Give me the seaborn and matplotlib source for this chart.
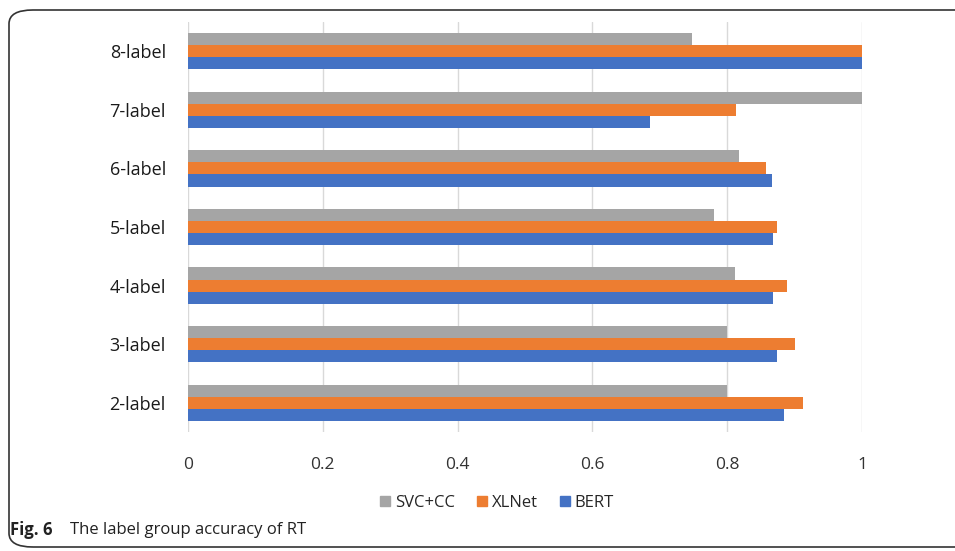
import matplotlib
matplotlib.use("Agg")
import matplotlib.pyplot as plt
from matplotlib.patches import FancyBboxPatch, Patch
import seaborn as sns
import pandas as pd

# values
labels = ['8-label', '7-label', '6-label', '5-label', '4-label', '3-label', '2-label']
svc_cc = [0.748, 1.0, 0.817, 0.781, 0.812, 0.800, 0.800]
xlnet = [1.0, 0.813, 0.857, 0.874, 0.888, 0.901, 0.912]
bert = [1.0, 0.686, 0.866, 0.868, 0.868, 0.874, 0.885]
models = ['SVC+CC', 'XLNet', 'BERT']
colors = ['#A5A5A5', '#ED7D31', '#4472C4']

df = pd.DataFrame({'label': labels, 'SVC+CC': svc_cc, 'XLNet': xlnet, 'BERT': bert})
df = df.melt(id_vars='label', var_name='model', value_name='accuracy')

sns.set_style('white')
plt.rcParams['font.family'] = ['Open Sans', 'DejaVu Sans']

fig = plt.figure(figsize=(9.55, 5.51), dpi=100)
ax = fig.add_axes([188 / 955, 1 - 432 / 551, (862 - 188) / 955, (432 - 22) / 551])

sns.barplot(data=df, y='label', x='accuracy', hue='model', order=labels,
            hue_order=models, palette=colors, orient='h', width=0.62,
            saturation=1, linewidth=0, ax=ax, legend=False)

ax.set_xlim(0, 1)
ax.set_xticks([0, 0.2, 0.4, 0.6, 0.8, 1.0])
ax.set_xticklabels(['0', '0.2', '0.4', '0.6', '0.8', '1'], fontsize=12.5, color='#333333')
ax.tick_params(axis='y', labelsize=13, labelcolor='#1a1a1a', length=0, pad=16)
ax.tick_params(axis='x', length=0, pad=18)
ax.set_xlabel('')
ax.set_ylabel('')
ax.grid(axis='x', color='#D9D9D9', linewidth=1)
ax.set_axisbelow(True)
for s in ax.spines.values():
    s.set_visible(False)

handles = [Patch(color=c, label=m) for m, c in zip(models, colors)]
fig.legend(handles=handles, loc='center', bbox_to_anchor=(497 / 955, 1 - 503 / 551),
           ncol=3, frameon=False, fontsize=12, handlelength=0.6, handleheight=0.6,
           handletextpad=0.3, columnspacing=1.3)

# caption and rounded frame
fig.text(10 / 955, 1 - 530 / 551, 'Fig. 6', fontsize=12, fontweight='bold',
         color='#222222', va='center', ha='left')
fig.text(70 / 955, 1 - 530 / 551, 'The label group accuracy of RT', fontsize=12,
         color='#222222', va='center', ha='left')
frame = FancyBboxPatch((9 / 955, 4 / 551), 1.2, (551 - 10 - 4) / 551,
                       transform=fig.transFigure,
                       boxstyle='round,pad=0,rounding_size=0.025', fill=False,
                       edgecolor='#333333', linewidth=1.2, clip_on=False)
fig.patches.append(frame)

fig.savefig('out.png', dpi=100)
